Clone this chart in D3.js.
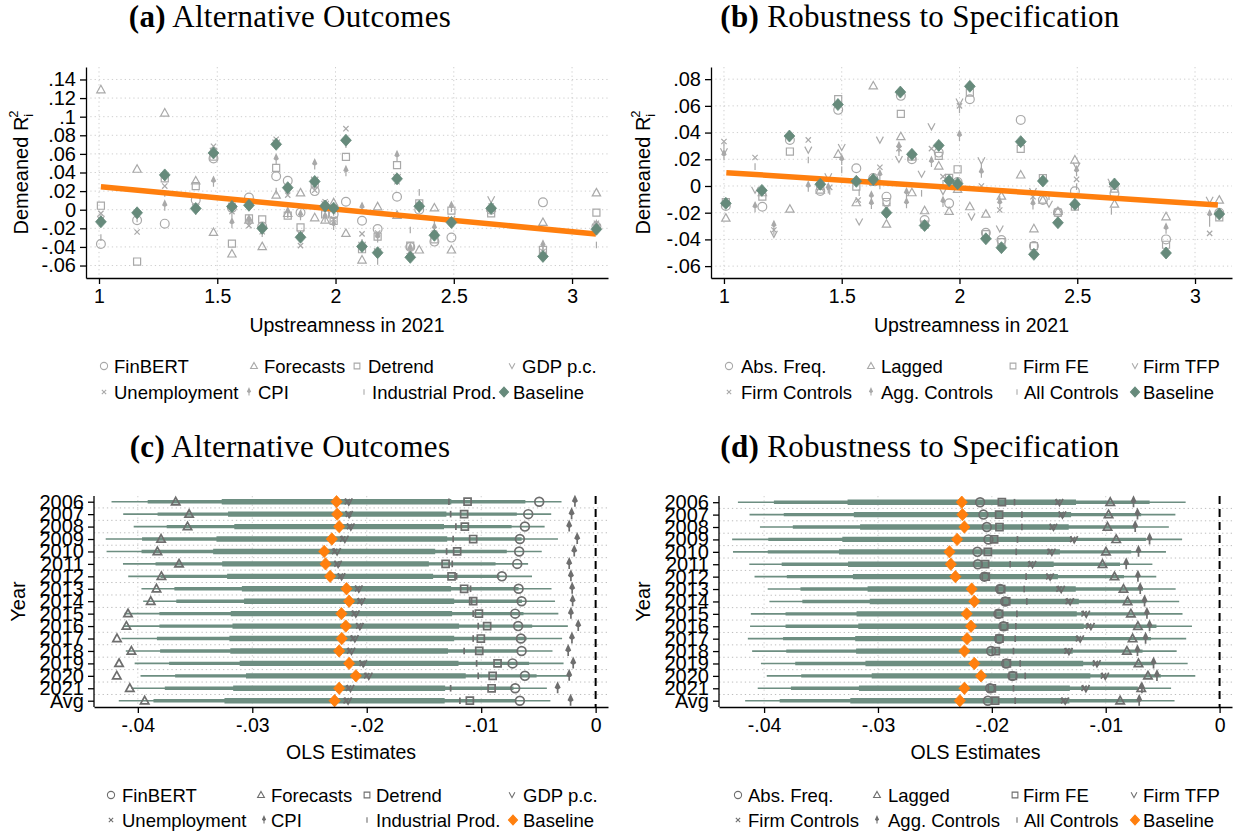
<!DOCTYPE html>
<html>
<head>
<meta charset="utf-8">
<script src="https://cdn.jsdelivr.net/npm/d3@7"></script>
<style>
body { margin: 0; background: #fff; }
text { font-family: "Liberation Sans", Arial, sans-serif; }
</style>
</head>
<body>
<script>
var w = 1235, h = 835;

// ---------- panel (a): sector upstreamness and demeaned R2 by outcome ----------
var sectorX = [1.008, 1.161, 1.278, 1.409, 1.484, 1.562, 1.634, 1.690, 1.749, 1.798, 1.852, 1.912, 1.956,
    1.992, 2.044, 2.112, 2.178, 2.260, 2.316, 2.354, 2.418, 2.490, 2.658, 2.877, 3.103];
var baseR2 = [-0.0130, -0.0033, 0.0374, 0.0013, 0.0610, 0.0035, 0.0048, -0.0200, 0.0703, 0.0237, -0.0296, 0.0304, 0.0040,
    0.0017, 0.0746, -0.0395, -0.0462, 0.0332, -0.0512, 0.0037, -0.0275, -0.0137, 0.0015, -0.0502, -0.0210];
var finbertR2 = [-0.0368, -0.0114, -0.0150, 0.0104, 0.0550, 0.0020, 0.0132, -0.0180, 0.0360, 0.0310, -0.0030, 0.0200, 0.0030,
    -0.0050, 0.0086, -0.0118, -0.0207, 0.0139, -0.0400, 0.0000, -0.0343, -0.0300, 0.0000, 0.0079, -0.0180];
var forecastR2 = [0.1290, 0.0436, 0.1040, 0.0310, -0.0243, -0.0475, -0.0110, -0.0396, 0.0157, -0.0040, 0.0182, -0.0086, -0.0110,
    0.0075, -0.0254, -0.0540, 0.0032, -0.0060, -0.0480, -0.0432, 0.0020, -0.0432, 0.0020, -0.0136, 0.0182];
var detrendR2 = [0.0043, -0.0557, 0.0336, 0.0254, 0.0570, -0.0364, -0.0093, -0.0104, 0.0450, -0.0064, -0.0190, 0.0280, -0.0050,
    -0.0121, 0.0568, -0.0425, -0.0290, 0.0479, -0.0386, 0.0068, -0.0318, -0.0010, -0.0040, -0.0432, -0.0032];
var gdpR2 = [-0.0100, -0.0050, 0.0350, 0.0030, 0.0630, 0.0040, 0.0030, -0.0220, 0.0720, 0.0200, -0.0250, 0.0320, 0.0060,
    0.0020, 0.0730, -0.0380, -0.0450, 0.0350, -0.0500, 0.0040, -0.0270, -0.0100, 0.0110, -0.0480, -0.0190];
var unempR2 = [-0.0039, -0.0239, 0.0254, 0.0020, 0.0682, -0.0020, -0.0171, -0.0236, 0.0757, 0.0157, -0.0386, 0.0210, 0.0086,
    -0.0100, 0.0871, -0.0260, -0.0250, 0.0300, -0.0450, 0.0050, -0.0250, -0.0120, 0.0040, -0.0450, -0.0146];
var cpiR2 = [-0.0120, -0.0080, 0.0043, 0.0000, 0.0300, -0.0146, -0.0120, -0.0240, 0.0540, -0.0030, -0.0060, 0.0486, -0.0080,
    -0.0164, 0.0414, 0.0020, -0.0300, 0.0575, -0.0420, 0.0020, -0.0200, 0.0030, 0.0010, -0.0386, -0.0170];
var indprodR2 = [-0.0300, -0.0020, 0.0175, 0.0010, 0.0590, -0.0050, -0.0120, -0.0210, 0.0200, -0.0050, -0.0270, 0.0250, 0.0060,
    -0.0030, 0.0700, -0.0350, -0.0557, 0.0310, -0.0218, 0.0186, -0.0110, -0.0150, 0.0030, -0.0400, -0.0379];
var fitLineA = [[1.008, 0.0246], [3.101, -0.0261]];

// ---------- panel (b): robustness specs, [upstreamness, demeaned R2] ----------
var absFreqB = [[1.008, -0.015], [1.163, -0.0155], [1.280, 0.0345], [1.409, -0.0038], [1.485, 0.057], [1.562, 0.0133],
    [1.634, 0.006], [1.690, -0.008], [1.751, 0.0675], [1.798, 0.020], [1.852, -0.0255], [1.912, 0.025], [1.956, -0.013],
    [1.992, 0.003], [2.044, 0.065], [2.112, -0.035], [2.178, -0.0405], [2.260, 0.0495], [2.316, -0.045], [2.354, -0.0105],
    [2.418, -0.0198], [2.490, -0.004], [2.658, -0.0055], [2.877, -0.040], [3.103, -0.020]];
var laggedB = [[1.008, -0.024], [1.163, -0.005], [1.280, -0.0173], [1.409, -0.003], [1.485, 0.0238], [1.562, -0.0125],
    [1.634, 0.075], [1.690, -0.0285], [1.751, 0.037], [1.798, -0.005], [1.852, -0.0185], [1.912, 0.015], [1.956, -0.019],
    [1.992, -0.0025], [2.044, -0.0155], [2.112, -0.021], [2.178, -0.0075], [2.260, 0.0083], [2.316, -0.032], [2.354, -0.0105],
    [2.418, -0.019], [2.490, 0.0195], [2.658, -0.0135], [2.877, -0.023], [3.103, -0.0105]];
var firmFEB = [[1.008, -0.012], [1.163, -0.008], [1.280, 0.0258], [1.409, 0.000], [1.485, 0.065], [1.562, -0.0005],
    [1.634, 0.003], [1.690, -0.012], [1.751, 0.054], [1.798, 0.022], [1.852, -0.029], [1.912, 0.0225], [1.956, 0.006],
    [1.992, 0.0125], [2.044, 0.070], [2.112, -0.036], [2.178, -0.042], [2.260, 0.0278], [2.316, -0.045], [2.354, 0.0058],
    [2.418, -0.020], [2.490, -0.0155], [2.658, -0.002], [2.877, -0.044], [3.103, -0.0235]];
var firmTFPB = [[1.000, 0.0258], [1.132, -0.003], [1.212, -0.036], [1.358, 0.027], [1.443, 0.007], [1.500, 0.029],
    [1.574, -0.0268], [1.662, 0.0345], [1.690, -0.015], [1.743, 0.020], [1.839, 0.009], [1.881, 0.0445], [1.930, -0.004],
    [2.000, 0.063], [2.051, -0.023], [2.093, 0.019], [2.171, -0.032], [2.312, -0.004], [2.380, -0.0135], [2.497, 0.015],
    [2.645, 0.003], [3.062, -0.0105]];
var firmCtrlB = [[1.000, 0.0333], [1.132, 0.0213], [1.212, -0.033], [1.358, 0.0345], [1.449, -0.001], [1.570, -0.0105],
    [1.662, 0.014], [1.743, 0.028], [1.881, 0.028], [1.930, 0.007], [2.000, 0.060], [2.093, 0.000], [2.171, -0.018],
    [2.312, -0.008], [2.497, 0.005], [2.645, 0.001], [3.062, -0.0355]];
var aggCtrlB = [[1.000, 0.023], [1.132, -0.016], [1.212, -0.030], [1.358, -0.0005], [1.443, -0.0018], [1.500, 0.0195],
    [1.626, -0.008], [1.626, -0.0135], [1.662, 0.008], [1.743, 0.029], [1.775, -0.0055], [1.775, -0.013], [1.881, 0.018],
    [1.930, -0.012], [2.000, 0.0375], [2.093, 0.010], [2.171, -0.013], [2.312, -0.0138], [2.497, 0.011], [2.877, -0.032],
    [3.062, -0.022]];
var allCtrlB = [[1.000, 0.030], [1.132, 0.0145], [1.212, -0.034], [1.358, 0.0195], [1.449, -0.004], [1.500, 0.012],
    [1.574, -0.005], [1.662, 0.000], [1.743, 0.025], [1.839, -0.0055], [1.930, 0.002], [2.000, 0.057], [2.093, 0.015],
    [2.171, -0.010], [2.312, -0.010], [2.380, -0.008], [2.497, -0.0005], [2.645, -0.019], [3.062, -0.028]];
var fitLineB = [[1.010, 0.0100], [3.097, -0.0142]];

var xTicksUp = [1, 1.5, 2, 2.5, 3];
var yTicksA = [0.14, 0.12, 0.1, 0.08, 0.06, 0.04, 0.02, 0, -0.02, -0.04, -0.06];
var yTicksB = [0.08, 0.06, 0.04, 0.02, 0, -0.02, -0.04, -0.06];

// ---------- panels (c) and (d): OLS estimates by year ----------
var years = ["2006", "2007", "2008", "2009", "2010", "2011", "2012", "2013", "2014", "2015", "2016", "2017",
    "2018", "2019", "2020", "2021", "Avg"];
var baseEst = [-0.02264, -0.02258, -0.02241, -0.02305, -0.02372, -0.02360, -0.02320, -0.02177, -0.02154, -0.02221,
    -0.02183, -0.02218, -0.02241, -0.02154, -0.02095, -0.02241, -0.02281];
var baseSE = [0.01003, 0.00954, 0.00916, 0.01008, 0.00970, 0.00903, 0.00900, 0.00914, 0.00918, 0.00967, 0.00990,
    0.00982, 0.00951, 0.00956, 0.00960, 0.00926, 0.00962];
var finbertEst = [-0.00493, -0.00589, -0.00618, -0.00662, -0.00668, -0.00685, -0.00819, -0.00673, -0.00647, -0.00703,
    -0.00677, -0.00653, -0.00647, -0.00726, -0.00618, -0.00703, -0.00662];
var forecastEst = [-0.03669, -0.03552, -0.03566, -0.03797, -0.03829, -0.03640, -0.03794, -0.03837, -0.03887, -0.04086,
    -0.04100, -0.04182, -0.04056, -0.04164, -0.04184, -0.04070, -0.03940];
var detrendEst = [-0.01119, -0.01149, -0.01143, -0.01070, -0.01210, -0.01311, -0.01259, -0.01149, -0.01070, -0.01020,
    -0.00948, -0.01003, -0.01017, -0.00857, -0.00900, -0.00909, -0.01099];
var gdpEst = [-0.02157, -0.02154, -0.02139, -0.02191, -0.02259, -0.02250, -0.02220, -0.02069, -0.02045, -0.02095,
    -0.02060, -0.02104, -0.02133, -0.02031, -0.01982, -0.02142, -0.02163];
var unempEst = [-0.0217, -0.0216, -0.0215, -0.0221, -0.0228, -0.0226, -0.0223, -0.0208, -0.0206, -0.0211, -0.0207,
    -0.0212, -0.0215, -0.0204, -0.0200, -0.0216, -0.0218];
var cpiEst = [-0.00181, -0.00210, -0.00231, -0.00161, -0.00187, -0.00231, -0.00216, -0.00205, -0.00201, -0.00216,
    -0.00152, -0.00207, -0.00240, -0.00196, -0.00231, -0.00332, -0.00219];
var indprodEst = [-0.01282, -0.01267, -0.01221, -0.01245, -0.01302, -0.01253, -0.01215, -0.01093, -0.01084, -0.01070,
    -0.01026, -0.01070, -0.01149, -0.01040, -0.01026, -0.01267, -0.01186];

var absFreqEst = [-0.02103, -0.02074, -0.02044, -0.02030, -0.02127, -0.02123, -0.02065, -0.01927, -0.01883, -0.01942,
    -0.01898, -0.01936, -0.02006, -0.01874, -0.01819, -0.02015, -0.02035];
var laggedEst = [-0.00960, -0.00975, -0.00984, -0.00908, -0.00998, -0.01028, -0.00923, -0.00844, -0.00808, -0.00779,
    -0.00717, -0.00764, -0.00814, -0.00712, -0.00629, -0.00688, -0.00873];
var firmFEEst = [-0.01912, -0.01936, -0.01933, -0.01980, -0.02035, -0.02059, -0.02053, -0.01918, -0.01874, -0.01936,
    -0.01892, -0.01933, -0.01965, -0.01868, -0.01815, -0.02000, -0.01971];
var firmTFPEst = [-0.01406, -0.01380, -0.01459, -0.01277, -0.01473, -0.01643, -0.01488, -0.01391, -0.01312, -0.01171,
    -0.01130, -0.01224, -0.01323, -0.01077, -0.01004, -0.01174, -0.01356];
var firmCtrlEst = [-0.0142, -0.0139, -0.0147, -0.0129, -0.0149, -0.0166, -0.0150, -0.0141, -0.0133, -0.0119, -0.0115,
    -0.0124, -0.0134, -0.0109, -0.0102, -0.0119, -0.0137];
var aggCtrlEst = [-0.00756, -0.00721, -0.00741, -0.00615, -0.00712, -0.00820, -0.00717, -0.00697, -0.00659, -0.00638,
    -0.00615, -0.00650, -0.00721, -0.00580, -0.00550, -0.00682, -0.00706];
var allCtrlEst = [-0.01801, -0.01736, -0.01736, -0.01775, -0.01786, -0.01839, -0.01699, -0.01716, -0.01693, -0.01780,
    -0.01789, -0.01795, -0.01810, -0.01751, -0.01707, -0.01810, -0.01795];

var xTicksEst = [-0.04, -0.03, -0.02, -0.01, 0];
// confidence bands: multiple of SE and line width
var ciBands = [{z: 1.96, width: 1.6}, {z: 1.645, width: 3.4}, {z: 1, width: 5.4}];

// colours
var lightGray = "#a9a9a9";
var darkGray = "#6e6e6e";
var green = "#668a7b";
var barColor = "#6d8e81";
var orange = "#ff7f0e";

var svg = d3.select("body").append("svg")
    .attr("width", w)
    .attr("height", h)
    .style("background", "#fff");

// marker shapes, r is the half size
function symbolPath(shape, r) {
    var s;
    switch (shape) {
        case "circle":
            return "M" + r + ",0A" + r + "," + r + " 0 1,1 " + (-r) + ",0A" + r + "," + r + " 0 1,1 " + r + ",0Z";
        case "triangle":
            return "M0," + (-r) + "L" + (r * 0.95) + "," + (r * 0.7) + "L" + (-r * 0.95) + "," + (r * 0.7) + "Z";
        case "square":
            s = r * 0.8;
            return "M" + (-s) + "," + (-s) + "H" + s + "V" + s + "H" + (-s) + "Z";
        case "vee":
            return "M" + (-r * 0.8) + "," + (-r * 0.75) + "L0," + (r * 0.75) + "L" + (r * 0.8) + "," + (-r * 0.75);
        case "cross":
            s = r * 0.6;
            return "M" + (-s) + "," + (-s) + "L" + s + "," + s + "M" + (-s) + "," + s + "L" + s + "," + (-s);
        case "spike":
            return "M0," + (-r) + "L" + (r * 0.4) + "," + (-r * 0.15) + "L0," + (r * 0.15) + "L" + (-r * 0.4) + "," + (-r * 0.15) + "Z"
                + "M0," + (-r) + "V" + r;
        case "bar":
            return "M0," + (-r * 0.75) + "V" + (r * 0.75);
        case "diamond":
            return "M0," + (-r) + "L" + (r * 0.9) + ",0L0," + r + "L" + (-r * 0.9) + ",0Z";
    }
}

function isFilled(shape) {
    return shape == "spike" || shape == "diamond";
}

function drawMarkers(g, pts, shape, r, color, sw) {
    g.append("g").selectAll("path")
        .data(pts)
        .enter()
        .append("path")
        .attr("transform", function(d){ return "translate(" + d[0] + "," + d[1] + ")"; })
        .attr("d", symbolPath(shape, r))
        .attr("fill", isFilled(shape) ? color : "none")
        .attr("stroke", color)
        .attr("stroke-width", sw);
}

// Stata style labels: .14, -.02, 0
function stataFmt(v) {
    if (Math.abs(v) < 1e-9) return "0";
    var s = d3.format(".2~f")(Math.abs(v)).replace(/^0/, "");
    return (v < 0 ? "-" : "") + s;
}

function styleAxis(a, fs) {
    a.select(".domain").attr("stroke", "#000").attr("stroke-width", 1.3);
    a.selectAll(".tick line").attr("stroke", "#000").attr("stroke-width", 1.3);
    a.selectAll(".tick text").attr("fill", "#000").style("font-size", fs + "px")
        .style("font-family", "'Liberation Sans', Arial, sans-serif");
}

function drawTitle(cx, cy, letter, rest) {
    var t = svg.append("text")
        .attr("x", cx).attr("y", cy)
        .attr("text-anchor", "middle")
        .style("font-family", "'Liberation Serif', 'DejaVu Serif', serif")
        .style("font-size", "31px")
        .style("letter-spacing", "0.3px");
    t.append("tspan").attr("font-weight", "bold").text(letter);
    t.append("tspan").text(" " + rest);
}

function drawLegend(items, rows, color) {
    items.forEach(function(it){
        var yy = rows[it.row];
        drawMarkers(svg, [[it.mx, yy]], it.shape, it.shape == "diamond" ? 5 : 3.6, it.color || color, 1.1);
        svg.append("text")
            .attr("x", it.tx).attr("y", yy + 6.5)
            .style("font-size", "18.5px")
            .text(it.name);
    });
}

function scatterPanel(p) {
    var g = svg.append("g");
    var x = d3.scaleLinear().domain(p.xDom).range([p.left, p.right]);
    var y = d3.scaleLinear().domain(p.yDom).range([p.bottom, p.top]);

    // dotted grid
    g.selectAll(".gy").data(p.yTicks).enter().append("line")
        .attr("x1", p.left).attr("x2", p.right)
        .attr("y1", function(d){ return y(d); }).attr("y2", function(d){ return y(d); })
        .attr("stroke", "#cfcfcf").attr("stroke-dasharray", "1.3,3");
    g.selectAll(".gx").data(xTicksUp).enter().append("line")
        .attr("x1", function(d){ return x(d); }).attr("x2", function(d){ return x(d); })
        .attr("y1", p.top).attr("y2", p.bottom)
        .attr("stroke", "#cfcfcf").attr("stroke-dasharray", "1.3,3");

    // alternative specifications
    p.series.forEach(function(s){
        var pts = s.pts.map(function(d){ return [x(d[0]), y(d[1])]; });
        drawMarkers(g, pts, s.shape, s.shape == "spike" ? 5 : 4.4, lightGray, 1.2);
    });

    // fitted line
    g.append("line")
        .attr("x1", x(p.fit[0][0])).attr("y1", y(p.fit[0][1]))
        .attr("x2", x(p.fit[1][0])).attr("y2", y(p.fit[1][1]))
        .attr("stroke", orange).attr("stroke-width", 5.5);

    // baseline
    var bpts = sectorX.map(function(d, i){ return [x(d), y(baseR2[i])]; });
    drawMarkers(g, bpts, "diamond", 6, green, 0.8);

    // axes
    var ay = g.append("g").attr("transform", "translate(" + p.left + ",0)")
        .call(d3.axisLeft(y).tickValues(p.yTicks).tickFormat(stataFmt).tickSize(6).tickSizeOuter(0).tickPadding(4));
    styleAxis(ay, 20);
    var ax = g.append("g").attr("transform", "translate(0," + p.bottom + ")")
        .call(d3.axisBottom(x).tickValues(xTicksUp).tickFormat(d3.format("~g")).tickSize(6).tickSizeOuter(0).tickPadding(5));
    styleAxis(ax, 19.5);

    // axis titles
    g.append("text")
        .attr("x", (p.left + p.right) / 2).attr("y", 332)
        .attr("text-anchor", "middle")
        .style("font-size", "19.5px")
        .text("Upstreamness in 2021");
    var yt = g.append("text")
        .attr("transform", "translate(" + p.ylabX + "," + ((p.top + p.bottom) / 2) + ") rotate(-90)")
        .attr("text-anchor", "middle")
        .style("font-size", "20px");
    yt.append("tspan").text("Demeaned R");
    yt.append("tspan").attr("dy", 5).style("font-size", "13px").text("i");
    yt.append("tspan").attr("dx", -4).attr("dy", -15).style("font-size", "13px").text("2");
}

function coefPanel(p) {
    var g = svg.append("g");
    var x = d3.scaleLinear().domain(p.xDom).range([p.left, p.right]);
    var y = d3.scalePoint().domain(years).range([p.rowTop, p.rowBottom]);

    // dotted grid between rows and at x ticks
    var mids = years.slice(1).map(function(d, i){ return (y(years[i]) + y(d)) / 2; });
    g.selectAll(".gy").data(mids).enter().append("line")
        .attr("x1", p.left).attr("x2", p.right)
        .attr("y1", function(d){ return d; }).attr("y2", function(d){ return d; })
        .attr("stroke", "#bdbdbd").attr("stroke-dasharray", "1.3,3");
    g.selectAll(".gx").data(xTicksEst.slice(0, 4)).enter().append("line")
        .attr("x1", function(d){ return x(d); }).attr("x2", function(d){ return x(d); })
        .attr("y1", p.top).attr("y2", p.bottom)
        .attr("stroke", "#cfcfcf").attr("stroke-dasharray", "1.3,3");

    // confidence bars for baseline
    ciBands.forEach(function(b){
        g.append("g").selectAll("line")
            .data(years)
            .enter()
            .append("line")
            .attr("x1", function(d, i){ return x(baseEst[i] - b.z * baseSE[i]); })
            .attr("x2", function(d, i){ return x(baseEst[i] + b.z * baseSE[i]); })
            .attr("y1", function(d){ return y(d); })
            .attr("y2", function(d){ return y(d); })
            .attr("stroke", barColor)
            .attr("stroke-width", b.width);
    });

    // zero line
    g.append("line")
        .attr("x1", x(0)).attr("x2", x(0))
        .attr("y1", p.top).attr("y2", p.bottom)
        .attr("stroke", "#000").attr("stroke-width", 2).attr("stroke-dasharray", "8,5");

    // alternative estimates
    p.series.forEach(function(s){
        var pts = s.vals.map(function(v, i){ return [x(v), y(years[i])]; });
        drawMarkers(g, pts, s.shape, s.shape == "spike" ? 5 : 4.4, darkGray, 1.7);
    });

    // baseline estimates
    var bpts = baseEst.map(function(v, i){ return [x(v), y(years[i])]; });
    drawMarkers(g, bpts, "diamond", 6.2, orange, 0.8);

    // axes
    var ay = g.append("g").attr("transform", "translate(" + p.left + ",0)")
        .call(d3.axisLeft(y).tickSize(6).tickSizeOuter(0).tickPadding(4));
    ay.select(".domain").attr("d", "M0," + p.top + "V" + p.bottom);
    styleAxis(ay, 20);
    var ax = g.append("g").attr("transform", "translate(0," + p.bottom + ")")
        .call(d3.axisBottom(x).tickValues(xTicksEst).tickFormat(stataFmt).tickSize(6).tickSizeOuter(0).tickPadding(5));
    styleAxis(ax, 19.5);

    g.append("text")
        .attr("x", (p.left + p.right) / 2).attr("y", 759)
        .attr("text-anchor", "middle")
        .style("font-size", "19.5px")
        .text("OLS Estimates");
    g.append("text")
        .attr("transform", "translate(" + p.ylabX + "," + ((p.top + p.bottom) / 2) + ") rotate(-90)")
        .attr("text-anchor", "middle")
        .style("font-size", "20px")
        .text("Year");
}

function zipSector(vals) {
    return sectorX.map(function(d, i){ return [d, vals[i]]; });
}

// ---------- (a) ----------
drawTitle(290, 27, "(a)", "Alternative Outcomes");
scatterPanel({
    left: 86, right: 608, top: 67, bottom: 278,
    xDom: [0.945, 3.152], yDom: [-0.0734, 0.1534],
    yTicks: yTicksA, ylabX: 28, fit: fitLineA,
    series: [
        {shape: "circle", pts: zipSector(finbertR2)},
        {shape: "triangle", pts: zipSector(forecastR2)},
        {shape: "square", pts: zipSector(detrendR2)},
        {shape: "vee", pts: zipSector(gdpR2)},
        {shape: "cross", pts: zipSector(unempR2)},
        {shape: "spike", pts: zipSector(cpiR2)},
        {shape: "bar", pts: zipSector(indprodR2)}
    ]
});
drawLegend([
    {name: "FinBERT", shape: "circle", mx: 104, tx: 114, row: 0},
    {name: "Forecasts", shape: "triangle", mx: 254, tx: 264, row: 0},
    {name: "Detrend", shape: "square", mx: 357, tx: 368, row: 0},
    {name: "GDP p.c.", shape: "vee", mx: 512, tx: 522, row: 0},
    {name: "Unemployment", shape: "cross", mx: 104, tx: 114, row: 1},
    {name: "CPI", shape: "spike", mx: 249, tx: 258, row: 1},
    {name: "Industrial Prod.", shape: "bar", mx: 364, tx: 372, row: 1},
    {name: "Baseline", shape: "diamond", mx: 504, tx: 513, row: 1, color: green}
], [366, 392], lightGray);

// ---------- (b) ----------
drawTitle(920, 27, "(b)", "Robustness to Specification");
scatterPanel({
    left: 711, right: 1232, top: 67, bottom: 278,
    xDom: [0.945, 3.157], yDom: [-0.0689, 0.0891],
    yTicks: yTicksB, ylabX: 650, fit: fitLineB,
    series: [
        {shape: "circle", pts: absFreqB},
        {shape: "triangle", pts: laggedB},
        {shape: "square", pts: firmFEB},
        {shape: "vee", pts: firmTFPB},
        {shape: "cross", pts: firmCtrlB},
        {shape: "spike", pts: aggCtrlB},
        {shape: "bar", pts: allCtrlB}
    ]
});
drawLegend([
    {name: "Abs. Freq.", shape: "circle", mx: 729, tx: 741, row: 0},
    {name: "Lagged", shape: "triangle", mx: 871, tx: 881, row: 0},
    {name: "Firm FE", shape: "square", mx: 1013, tx: 1023, row: 0},
    {name: "Firm TFP", shape: "vee", mx: 1135, tx: 1143, row: 0},
    {name: "Firm Controls", shape: "cross", mx: 729, tx: 741, row: 1},
    {name: "Agg. Controls", shape: "spike", mx: 871, tx: 881, row: 1},
    {name: "All Controls", shape: "bar", mx: 1017, tx: 1024, row: 1},
    {name: "Baseline", shape: "diamond", mx: 1135, tx: 1143, row: 1, color: green}
], [366, 392], lightGray);

// ---------- (c) ----------
drawTitle(290, 457, "(c)", "Alternative Outcomes");
coefPanel({
    left: 94, right: 608, top: 496, bottom: 707, rowTop: 501.7, rowBottom: 700.7,
    xDom: [-0.04383, 0.00108], ylabX: 25,
    series: [
        {shape: "circle", vals: finbertEst},
        {shape: "triangle", vals: forecastEst},
        {shape: "square", vals: detrendEst},
        {shape: "vee", vals: gdpEst},
        {shape: "cross", vals: unempEst},
        {shape: "spike", vals: cpiEst},
        {shape: "bar", vals: indprodEst}
    ]
});
drawLegend([
    {name: "FinBERT", shape: "circle", mx: 111, tx: 122, row: 0},
    {name: "Forecasts", shape: "triangle", mx: 261, tx: 271, row: 0},
    {name: "Detrend", shape: "square", mx: 367, tx: 376, row: 0},
    {name: "GDP p.c.", shape: "vee", mx: 512, tx: 523, row: 0},
    {name: "Unemployment", shape: "cross", mx: 111, tx: 122, row: 1},
    {name: "CPI", shape: "spike", mx: 264, tx: 271, row: 1},
    {name: "Industrial Prod.", shape: "bar", mx: 367, tx: 376, row: 1},
    {name: "Baseline", shape: "diamond", mx: 513, tx: 523, row: 1, color: orange}
], [795, 820], darkGray);

// ---------- (d) ----------
drawTitle(920, 457, "(d)", "Robustness to Specification");
coefPanel({
    left: 719, right: 1232, top: 496, bottom: 707, rowTop: 502.2, rowBottom: 700.7,
    xDom: [-0.04396, 0.00109], ylabX: 650,
    series: [
        {shape: "circle", vals: absFreqEst},
        {shape: "triangle", vals: laggedEst},
        {shape: "square", vals: firmFEEst},
        {shape: "vee", vals: firmTFPEst},
        {shape: "cross", vals: firmCtrlEst},
        {shape: "spike", vals: aggCtrlEst},
        {shape: "bar", vals: allCtrlEst}
    ]
});
drawLegend([
    {name: "Abs. Freq.", shape: "circle", mx: 738, tx: 748, row: 0},
    {name: "Lagged", shape: "triangle", mx: 877, tx: 888, row: 0},
    {name: "Firm FE", shape: "square", mx: 1015, tx: 1023, row: 0},
    {name: "Firm TFP", shape: "vee", mx: 1134, tx: 1143, row: 0},
    {name: "Firm Controls", shape: "cross", mx: 738, tx: 748, row: 1},
    {name: "Agg. Controls", shape: "spike", mx: 877, tx: 888, row: 1},
    {name: "All Controls", shape: "bar", mx: 1017, tx: 1024, row: 1},
    {name: "Baseline", shape: "diamond", mx: 1135, tx: 1143, row: 1, color: orange}
], [795, 820], darkGray);
</script>
</body>
</html>
